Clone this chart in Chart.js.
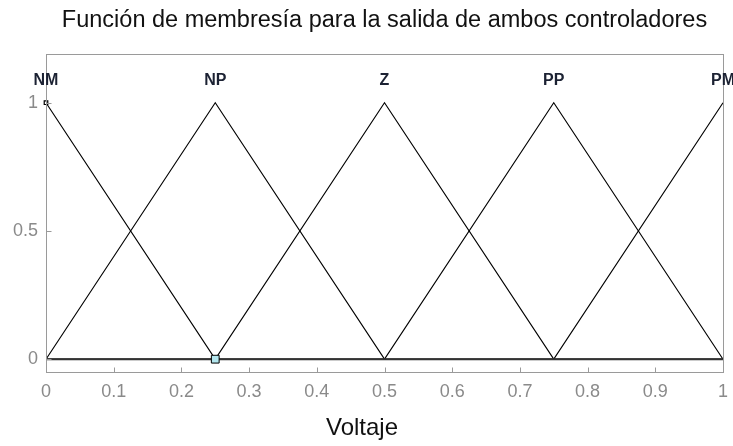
<!DOCTYPE html>
<html>
<head>
<meta charset="utf-8">
<script src="https://cdn.jsdelivr.net/npm/chart.js@4/dist/chart.umd.min.js"></script>
<style>
    html, body { margin: 0; padding: 0; background: #fff; }
    #wrap { width: 733px; height: 446px; position: relative; }
</style>
</head>
<body>
<div id="wrap"><canvas id="mfChart"></canvas></div>
<script>
// Breakpoints of the membership functions (x) and each MF's value there
const mfX = [0, 0.25, 0.5, 0.75, 1];
const mfNM = [1, 0, 0, 0, 0];
const mfNP = [0, 1, 0, 0, 0];
const mfZ  = [0, 0, 1, 0, 0];
const mfPP = [0, 0, 0, 1, 0];
const mfPM = [0, 0, 0, 0, 1];
const mfNames = ['NM', 'NP', 'Z', 'PP', 'PM'];
const mfPeaks = [0, 0.25, 0.5, 0.75, 1];

// Baseline and markers
const baseX = [0, 1];
const baseY = [0, 0];
const markerX = [0.25];
const markerY = [0];
const cornerX = [0];
const cornerY = [1];

// Tick labels
const xTickValues = [0, 0.1, 0.2, 0.3, 0.4, 0.5, 0.6, 0.7, 0.8, 0.9, 1];
const yTickValues = [0, 0.5, 1];

const TITLE = 'Función de membresía para la salida de ambos controladores';
const X_TITLE = 'Voltaje';

const FONT = '"Liberation Sans", Arial, sans-serif';
const TICK_COLOR = '#8a8a8a';
const BOX_COLOR = '#9a9a9a';

function toPoints(xs, ys) {
    return xs.map((x, i) => ({ x: x, y: ys[i] }));
}

function mfDataset(ys) {
    return {
        data: toPoints(mfX, ys),
        borderColor: '#000',
        borderWidth: 1.1,
        pointRadius: 0,
        fill: false,
        tension: 0
    };
}

// Box round the plot, inward ticks, titles and the MF name labels
const boxPlugin = {
    id: 'boxPlugin',
    afterDatasetsDraw(chart) {
        const { ctx, chartArea, scales } = chart;
        const x = scales.x, y = scales.y;
        ctx.save();
        ctx.strokeStyle = BOX_COLOR;
        ctx.lineWidth = 1;
        const l = Math.round(chartArea.left) + 0.5;
        const r = Math.round(chartArea.right) + 0.5;
        const t = Math.round(chartArea.top) + 0.5;
        const b = Math.round(chartArea.bottom) + 0.5;
        ctx.strokeRect(l, t, r - l, b - t);

        ctx.beginPath();
        xTickValues.forEach(v => {
            const px = Math.round(x.getPixelForValue(v)) + 0.5;
            ctx.moveTo(px, b);
            ctx.lineTo(px, b - 5);
        });
        yTickValues.forEach(v => {
            const py = Math.round(y.getPixelForValue(v)) + 0.5;
            ctx.moveTo(l, py);
            ctx.lineTo(l + 5, py);
        });
        ctx.stroke();

        ctx.fillStyle = '#1c2233';
        ctx.font = 'bold 16px ' + FONT;
        ctx.textAlign = 'center';
        ctx.textBaseline = 'alphabetic';
        mfNames.forEach((name, i) => {
            ctx.fillText(name, x.getPixelForValue(mfPeaks[i]), 85);
        });

        // Title over the plot area, axis title a bit left of centre
        ctx.fillStyle = '#111';
        ctx.font = '23.5px ' + FONT;
        ctx.textBaseline = 'middle';
        ctx.fillText(TITLE, (chartArea.left + chartArea.right) / 2, 21);
        ctx.font = '24px ' + FONT;
        ctx.fillText(X_TITLE, 362, 428);
        ctx.restore();
    }
};

const ctx = document.getElementById('mfChart').getContext('2d');

new Chart(ctx, {
    type: 'line',
    data: {
        datasets: [
            {
                data: toPoints(markerX, markerY),
                showLine: false,
                pointStyle: 'rect',
                pointRadius: 5.5,
                pointBackgroundColor: '#b2e6ee',
                pointBorderColor: '#000',
                pointBorderWidth: 1,
                clip: false
            },
            {
                data: toPoints(cornerX, cornerY),
                showLine: false,
                pointStyle: 'rect',
                pointRadius: 2.5,
                pointBackgroundColor: '#fff',
                pointBorderColor: '#000',
                pointBorderWidth: 1.2,
                clip: false
            },
            {
                data: toPoints(baseX, baseY),
                borderColor: '#333',
                borderWidth: 2,
                pointRadius: 0,
                fill: false
            },
            mfDataset(mfNM),
            mfDataset(mfNP),
            mfDataset(mfZ),
            mfDataset(mfPP),
            mfDataset(mfPM)
        ]
    },
    options: {
        responsive: true,
        maintainAspectRatio: false,
        animation: false,
        layout: { padding: { left: 0, right: 10, top: 54, bottom: 0 } },
        plugins: {
            legend: { display: false },
            tooltip: { enabled: false },
            title: { display: false }
        },
        scales: {
            x: {
                type: 'linear',
                min: 0,
                max: 1,
                afterBuildTicks: s => { s.ticks = xTickValues.map(v => ({ value: v })); },
                afterFit: s => { s.height = 74; s.paddingLeft = 0; s.paddingRight = 0; },
                grid: { display: false, drawTicks: false },
                border: { display: false },
                ticks: {
                    color: TICK_COLOR,
                    padding: 9,
                    maxRotation: 0,
                    autoSkip: false,
                    font: { family: FONT, size: 18 },
                    callback: v => String(v)
                }
            },
            y: {
                type: 'linear',
                min: -0.05,
                max: 1.19,
                afterBuildTicks: s => { s.ticks = yTickValues.map(v => ({ value: v })); },
                afterFit: s => { s.width = 46; s.paddingTop = 0; s.paddingBottom = 0; },
                grid: { display: false, drawTicks: false },
                border: { display: false },
                ticks: {
                    color: TICK_COLOR,
                    padding: 8,
                    font: { family: FONT, size: 18 },
                    callback: v => String(v)
                }
            }
        }
    },
    plugins: [boxPlugin]
});
</script>
</body>
</html>
